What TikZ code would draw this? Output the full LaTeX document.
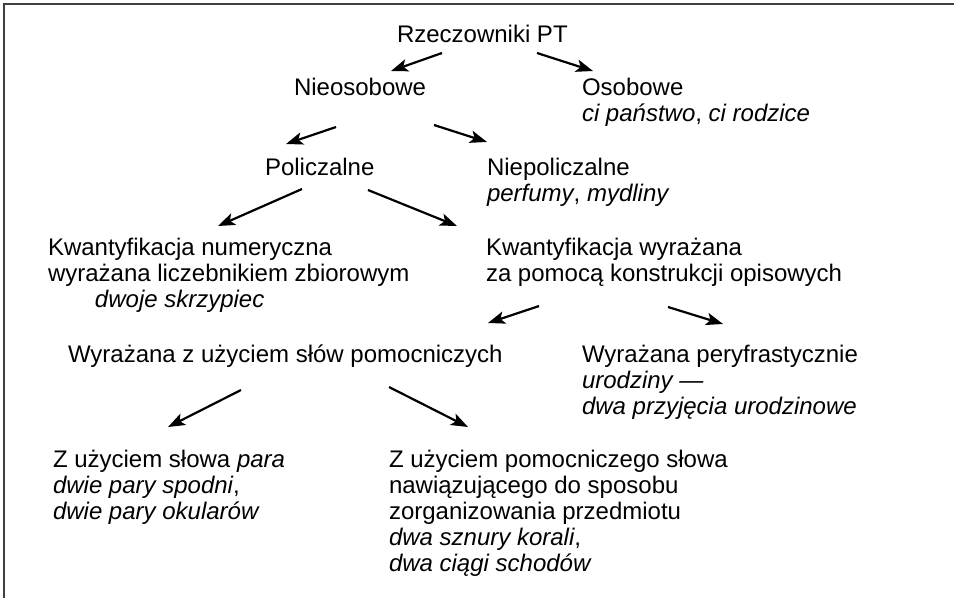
\documentclass[tikz,border=0pt]{standalone}
\usepackage{fontspec}
\setmainfont{Liberation Sans}
\usetikzlibrary{arrows.meta}
\tikzset{
  lbl/.style={anchor=base west, inner sep=0pt, outer sep=0pt,
    font=\fontsize{24}{26}\selectfont},
  arr/.style={line width=2.2pt, -{Stealth[length=17pt,width=12.5pt,inset=4pt]}},
  frame/.style={line width=1.8pt, draw=black!75}
}
\newcommand{\blk}[1]{\begin{tabular}[t]{@{}l@{}}#1\end{tabular}}
\begin{document}
\begin{tikzpicture}[x=1pt,y=-1pt]
\useasboundingbox (0,0) rectangle (954,598);
\draw[frame] (4,598) -- (4,4) -- (954,4);

\node[lbl] (root) at (397,42) {Rzeczowniki PT};
\node[lbl] (nieos) at (294,95) {Nieosobowe};
\node[lbl] (osob) at (582,95) {\blk{Osobowe\\ \textit{ci państwo}, \textit{ci rodzice}}};
\node[lbl] (polic) at (265,175) {Policzalne};
\node[lbl] (niepol) at (487,175) {\blk{Niepoliczalne\\ \textit{perfumy}, \textit{mydliny}}};
\node[lbl] (knum) at (48,255) {\blk{Kwantyfikacja numeryczna\\ wyrażana liczebnikiem zbiorowym\\ \hspace{47pt}\textit{dwoje skrzypiec}}};
\node[lbl] (kopis) at (486,255) {\blk{Kwantyfikacja wyrażana\\ za pomocą konstrukcji opisowych}};
\node[lbl] (pomoc) at (68,362) {Wyrażana z użyciem słów pomocniczych};
\node[lbl] (peryf) at (582,362) {\blk{Wyrażana peryfrastycznie\\ \textit{urodziny —}\\ \textit{dwa przyjęcia urodzinowe}}};
\node[lbl] (para) at (53,467) {\blk{Z użyciem słowa \textit{para}\\ \textit{dwie pary spodni},\\ \textit{dwie pary okularów}}};
\node[lbl] (organ) at (389,467) {\blk{Z użyciem pomocniczego słowa\\ nawiązującego do sposobu\\ zorganizowania przedmiotu\\ \textit{dwa sznury korali},\\ \textit{dwa ciągi schodów}}};

\coordinate (a1s) at (442,53);  \coordinate (a1e) at (391,71);
\coordinate (a2s) at (537,53);  \coordinate (a2e) at (593,71);
\coordinate (a3s) at (336,127); \coordinate (a3e) at (286,144);
\coordinate (a4s) at (434,125); \coordinate (a4e) at (487,142);
\coordinate (a5s) at (302,189); \coordinate (a5e) at (218,226);
\coordinate (a6s) at (368,190); \coordinate (a6e) at (457,226);
\coordinate (a7s) at (539,306); \coordinate (a7e) at (488,323);
\coordinate (a8s) at (668,307); \coordinate (a8e) at (723,324);
\coordinate (a9s) at (241,390); \coordinate (a9e) at (168,427);
\coordinate (a10s) at (389,387); \coordinate (a10e) at (468,427);

\draw[arr] (a1s) -- (a1e);
\draw[arr] (a2s) -- (a2e);
\draw[arr] (a3s) -- (a3e);
\draw[arr] (a4s) -- (a4e);
\draw[arr] (a5s) -- (a5e);
\draw[arr] (a6s) -- (a6e);
\draw[arr] (a7s) -- (a7e);
\draw[arr] (a8s) -- (a8e);
\draw[arr] (a9s) -- (a9e);
\draw[arr] (a10s) -- (a10e);
\end{tikzpicture}
\end{document}
